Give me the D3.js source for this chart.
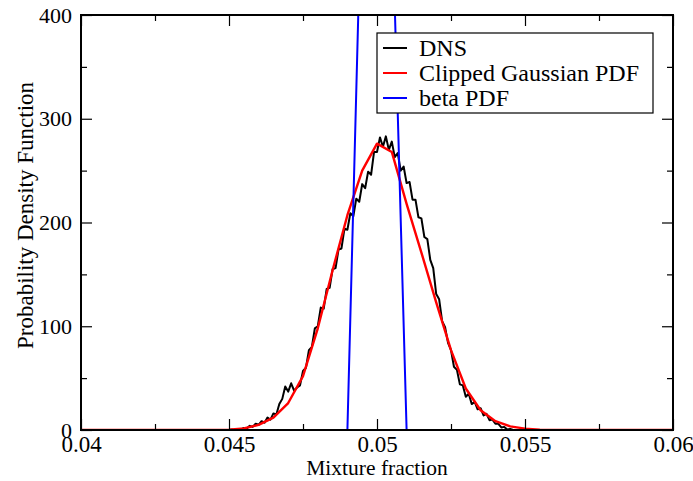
<!DOCTYPE html>
<html>
<head>
    <meta charset="utf-8">
    <title>Mixture fraction PDF</title>
    <style type="text/css">
        body{
            margin: 0;
            background: #fff;
        }
        svg{
            display: block;
        }
        .line{
            fill: none;
            stroke-linejoin: round;
        }
    </style>
</head>
<body>
<div id="chart"></div>

<script src="https://d3js.org/d3.v7.min.js"></script>
<script>

// DNS histogram, every 0.0001 from 0.045 to 0.0546
var dnsStart = 0.045,
    dnsStep  = 0.0001;
var dnsValues = [
    0, 0.4, 0, 1, 0.5, 2, 1.5, 4, 3, 6,
    5, 8.5, 7, 12, 10, 16, 15, 25, 30, 42,
    37, 45, 38, 41, 43, 57, 60, 77, 80, 98,
    100, 118, 117, 136, 137, 155, 156, 174, 175, 194,
    193, 209, 206, 223, 220, 237, 233, 249, 246, 268,
    268, 282, 273, 283, 270, 278, 263, 267, 250, 254,
    238, 239, 222, 222, 205, 204, 186, 184, 164, 156,
    131, 126, 105, 99, 84, 77, 61, 58, 44, 43,
    32, 35, 25, 27, 20, 21, 14, 15.5, 9.5, 10,
    6, 6, 2.5, 3, 0.5, 1, 0
];

// model PDFs, sampled every 0.0005 from 0.04 to 0.06
var modelStart = 0.04,
    modelStep  = 0.0005;
var gaussValues = [
    0, 0, 0, 0, 0, 0, 0, 0, 0, 0,
    0.3, 1.5, 5, 12, 26, 52, 98, 154, 207, 250,
    276, 268, 218, 171, 123, 77, 40, 19, 8.5, 3.5,
    1.3, 0.4, 0, 0, 0, 0, 0, 0, 0, 0,
    0
];
var betaValues = [
    0, 0, 0, 0, 0, 0, 0, 0, 0, 0,
    0, 0, 0, 0, 0, 0, 0, 0, 0, 545,
    2400, 510, 0, 0, 0, 0, 0, 0, 0, 0,
    0, 0, 0, 0, 0, 0, 0, 0, 0, 0,
    0
];

var seriesNames  = ["DNS", "Clipped Gaussian PDF", "beta PDF"];
var seriesColors = ["#000000", "#ff0000", "#0000ff"];

var xTickValues = [0.04, 0.045, 0.05, 0.055, 0.06],
    xTickLabels = ["0.04", "0.045", "0.05", "0.055", "0.06"],
    xMinorTicks = [0.0425, 0.0475, 0.0525, 0.0575],
    yTickValues = [0, 100, 200, 300, 400],
    yTickLabels = ["0", "100", "200", "300", "400"],
    yMinorTicks = [50, 150, 250, 350];

var serif = "'Liberation Serif', 'Times New Roman', Times, serif";

var margin = {top: 15, right: 20, bottom: 51, left: 81},
    width  = 693 - margin.left - margin.right,
    height = 481 - margin.top - margin.bottom;

var svg = d3.select("#chart").append("svg")
    .attr("width", 693)
    .attr("height", 481)
    .append("g")
    .attr("transform", "translate(" + margin.left + "," + margin.top + ")");

var x = d3.scaleLinear().domain([0.04, 0.06]).range([0, width]);
var y = d3.scaleLinear().domain([0, 400]).range([height, 0]);

//turn the value lists into points
function toPoints(start, step, values){
    return values.map(function(v, i){ return [start + i * step, v]; });
}
var dns = [[0.04, 0]].concat(toPoints(dnsStart, dnsStep, dnsValues), [[0.06, 0]]);
var gauss = toPoints(modelStart, modelStep, gaussValues);
var beta = toPoints(modelStart, modelStep, betaValues);

svg.append("clipPath")
    .attr("id", "plot-clip")
    .append("rect")
    .attr("width", width)
    .attr("height", height);

var line = d3.line()
    .x(function(d){ return x(d[0]); })
    .y(function(d){ return y(d[1]); });

var plot = svg.append("g").attr("clip-path", "url(#plot-clip)");

plot.append("path").datum(dns)
    .attr("class", "line")
    .attr("stroke", seriesColors[0])
    .attr("stroke-width", 2)
    .attr("d", line);

plot.append("path").datum(gauss)
    .attr("class", "line")
    .attr("stroke", seriesColors[1])
    .attr("stroke-width", 2.4)
    .attr("d", line);

plot.append("path").datum(beta)
    .attr("class", "line")
    .attr("stroke", seriesColors[2])
    .attr("stroke-width", 2)
    .attr("d", line);

//ticks point inwards on all four sides
function tickAxis(axis, values, size){
    return axis.tickValues(values).tickSize(size).tickFormat("");
}

svg.append("g").attr("transform", "translate(0," + height + ")")
    .call(tickAxis(d3.axisBottom(x), xMinorTicks, -6));
svg.append("g")
    .call(tickAxis(d3.axisTop(x), xMinorTicks, -6));
svg.append("g")
    .call(tickAxis(d3.axisTop(x), xTickValues, -11));
svg.append("g")
    .call(tickAxis(d3.axisLeft(y), yMinorTicks, -6));
svg.append("g").attr("transform", "translate(" + width + ",0)")
    .call(tickAxis(d3.axisRight(y), yMinorTicks, -6));
svg.append("g").attr("transform", "translate(" + width + ",0)")
    .call(tickAxis(d3.axisRight(y), yTickValues, -11));

var xAxis = svg.append("g")
    .attr("transform", "translate(0," + height + ")")
    .call(d3.axisBottom(x)
        .tickValues(xTickValues)
        .tickSize(-11)
        .tickPadding(6)
        .tickFormat(function(d, i){ return xTickLabels[i]; }));

var yAxis = svg.append("g")
    .call(d3.axisLeft(y)
        .tickValues(yTickValues)
        .tickSize(-11)
        .tickPadding(9)
        .tickFormat(function(d, i){ return yTickLabels[i]; }));

svg.selectAll(".domain").remove();
svg.selectAll(".tick line").attr("stroke", "#000").attr("stroke-width", 1.2);
xAxis.selectAll("text")
    .style("font-family", serif)
    .style("font-size", "23px")
    .attr("fill", "#000");
yAxis.selectAll("text")
    .style("font-family", serif)
    .style("font-size", "22px")
    .attr("fill", "#000");

//frame
svg.append("rect")
    .attr("width", width)
    .attr("height", height)
    .attr("fill", "none")
    .attr("stroke", "#000")
    .attr("stroke-width", 2);

//axis titles
svg.append("text")
    .attr("x", width / 2)
    .attr("y", height + 45)
    .attr("text-anchor", "middle")
    .style("font-family", serif)
    .style("font-size", "21.5px")
    .text("Mixture fraction");

svg.append("text")
    .attr("transform", "translate(" + (-48) + "," + (height / 2 - 7) + ")rotate(-90)")
    .attr("text-anchor", "middle")
    .style("font-family", serif)
    .style("font-size", "23px")
    .text("Probability Density Function");

//legend box
var legend = svg.append("g")
    .attr("transform", "translate(" + (377 - margin.left) + "," + (33 - margin.top) + ")");

legend.append("rect")
    .attr("width", 276)
    .attr("height", 80)
    .attr("fill", "#fff")
    .attr("stroke", "#000")
    .attr("stroke-width", 1.2);

var entry = legend.selectAll("g.entry")
    .data(seriesNames)
    .enter()
    .append("g")
    .attr("class", "entry")
    .attr("transform", function(d, i){ return "translate(0," + (15 + i * 25) + ")"; });

entry.append("line")
    .attr("x1", 6)
    .attr("x2", 30)
    .attr("stroke", function(d, i){ return seriesColors[i]; })
    .attr("stroke-width", 2);

entry.append("text")
    .attr("x", 42)
    .attr("dy", "0.33em")
    .style("font-family", serif)
    .style("font-size", "24px")
    .text(function(d){ return d; });

</script>
</body>
</html>
